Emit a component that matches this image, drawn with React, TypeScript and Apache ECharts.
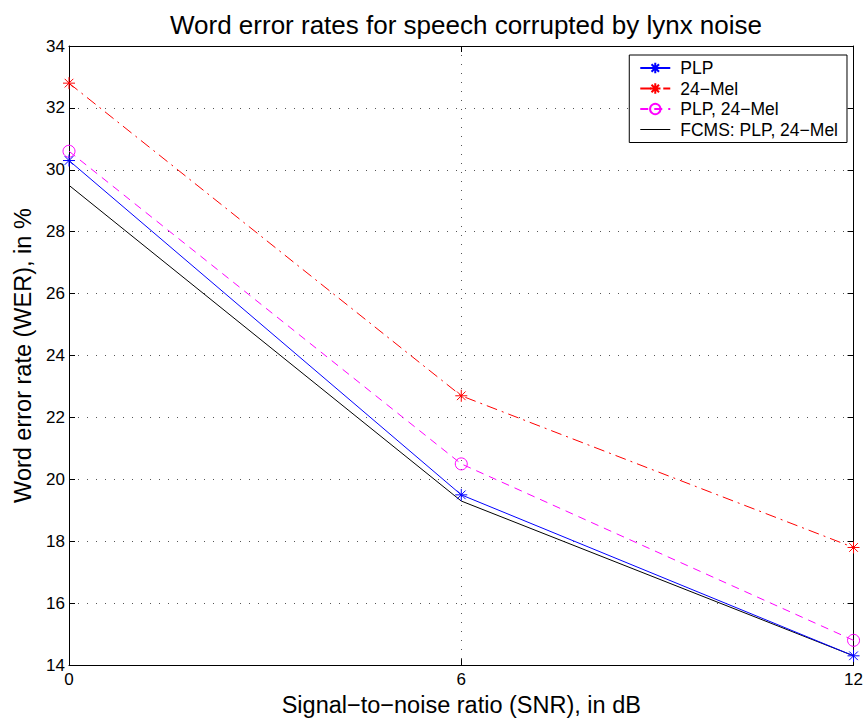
import React, { useEffect, useRef } from "react";
import * as echarts from "echarts";

const snr = [0, 6, 12];
const plp = [30.3, 19.5, 14.3];
const mel24 = [32.8, 22.7, 17.8];
const plpMel = [30.6, 20.5, 14.8];
const fcms = [29.5, 19.3, 14.3];
const seriesNames = ["PLP", "24\u2212Mel", "PLP, 24\u2212Mel", "FCMS: PLP, 24\u2212Mel"];

const STAR = "path://M0,-1L0,1M-1,0L1,0M-0.72,-0.72L0.72,0.72M-0.72,0.72L0.72,-0.72";
const FONT = "Liberation Sans, Arial, sans-serif";

export default function App() {
  const ref = useRef<HTMLDivElement>(null);
  useEffect(() => {
    if (!ref.current) return;
    const chart = echarts.init(ref.current, null, { renderer: "svg" });
    const pair = (ys: number[]) => snr.map((x, i) => [x, ys[i]]);
    const axisCommon = {
      type: "value" as const,
      axisLine: { show: true, onZero: false, lineStyle: { color: "#000", width: 1 } },
      axisTick: { show: true, inside: true, length: 6, lineStyle: { color: "#000" } },
    };
    const grid = { show: true, lineStyle: { color: "#555", type: [1, 8], width: 1 } };
    chart.setOption({
      animation: false,
      backgroundColor: "#fff",
      textStyle: { fontFamily: FONT },
      title: {
        text: "Word error rates for speech corrupted by lynx noise",
        left: 461,
        textAlign: "center",
        top: 7,
        textStyle: { fontFamily: FONT, fontSize: 26, fontWeight: "normal", color: "#000" },
      },
      grid: { left: 69, right: 10, top: 46, bottom: 55 },
      legend: {
        orient: "vertical",
        right: 19,
        top: 55,
        backgroundColor: "#fff",
        borderColor: "#000",
        borderWidth: 1,
        borderRadius: 0,
        padding: [4, 9, 4, 10],
        itemGap: 2.5,
        itemWidth: 30,
        itemHeight: 13,
        data: [
          { name: seriesNames[0] },
          { name: seriesNames[1] },
          { name: seriesNames[2] },
          { name: seriesNames[3], icon: "path://M0,0L30,0L30,1L0,1Z" },
        ],
        textStyle: { fontFamily: FONT, fontSize: 17.5, color: "#000", padding: [0, 0, 0, 5] },
      },
      xAxis: [
        {
          ...axisCommon,
          min: 0,
          max: 12,
          interval: 6,
          position: "bottom",
          name: "Signal\u2212to\u2212noise ratio (SNR), in dB",
          nameLocation: "middle",
          nameGap: 27,
          nameTextStyle: { fontFamily: FONT, fontSize: 23.5, color: "#000" },
          axisLabel: { color: "#000", fontSize: 17, margin: 6, fontFamily: FONT },
          splitLine: grid,
        },
        {
          ...axisCommon,
          min: 0,
          max: 12,
          interval: 6,
          position: "top",
          axisLabel: { show: false },
          splitLine: { show: false },
        },
      ],
      yAxis: [
        {
          ...axisCommon,
          min: 14,
          max: 34,
          interval: 2,
          position: "left",
          name: "Word error rate (WER), in %",
          nameLocation: "middle",
          nameGap: 31,
          nameTextStyle: { fontFamily: FONT, fontSize: 23.5, color: "#000" },
          axisLabel: { color: "#000", fontSize: 17, margin: 4, fontFamily: FONT },
          splitLine: grid,
        },
        {
          ...axisCommon,
          min: 14,
          max: 34,
          interval: 2,
          position: "right",
          axisLabel: { show: false },
          splitLine: { show: false },
        },
      ],
      series: [
        {
          name: seriesNames[0],
          type: "line",
          data: pair(plp),
          symbol: STAR,
          symbolSize: 12,
          color: "#0000ff",
          itemStyle: { color: "#0000ff", borderColor: "#0000ff", borderWidth: 1 },
          lineStyle: { color: "#0000ff", width: 1 },
          z: 4,
        },
        {
          name: seriesNames[1],
          type: "line",
          data: pair(mel24),
          symbol: STAR,
          symbolSize: 12,
          color: "#ff0000",
          itemStyle: { color: "#ff0000", borderColor: "#ff0000", borderWidth: 1 },
          lineStyle: { color: "#ff0000", width: 1, type: [11, 5, 2, 5] },
          z: 3,
        },
        {
          name: seriesNames[2],
          type: "line",
          data: pair(plpMel),
          symbol: "circle",
          symbolSize: 12,
          color: "#ff00ff",
          itemStyle: { color: "rgba(255,255,255,0)", borderColor: "#ff00ff", borderWidth: 1 },
          lineStyle: { color: "#ff00ff", width: 1, type: [8, 6] },
          z: 3,
        },
        {
          name: seriesNames[3],
          type: "line",
          data: pair(fcms),
          symbol: "none",
          color: "#000",
          itemStyle: { color: "#000" },
          lineStyle: { color: "#000", width: 1 },
          z: 2,
        },
      ],
    });
    return () => chart.dispose();
  }, []);
  return (
    <div
      ref={ref}
      style={{ position: "absolute", left: 0, top: 0, width: 866, height: 722 }}
    />
  );
}
